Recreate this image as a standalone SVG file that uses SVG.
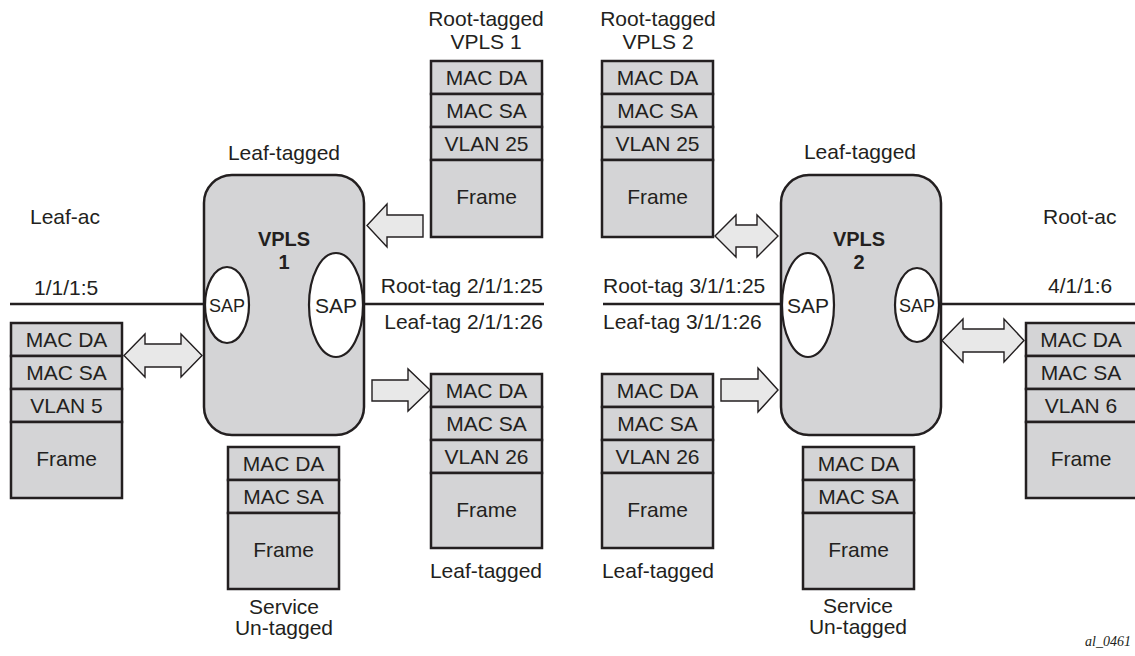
<svg xmlns="http://www.w3.org/2000/svg" width="1135" height="656" viewBox="0 0 1135 656">
<style>
text{font-family:"Liberation Sans",Arial,sans-serif;font-size:21px;fill:#231f20}
.c{text-anchor:middle}
.b{font-weight:bold;font-size:20px}
.cell{fill:#d4d4d6;stroke:#231f20;stroke-width:2.5}
.vpls{fill:#d4d4d6;stroke:#231f20;stroke-width:2.5}
.sap{fill:#fff;stroke:#231f20;stroke-width:2.2}
.ln{stroke:#231f20;stroke-width:2.5;fill:none}
.arr{fill:#e8e8e8;stroke:#231f20;stroke-width:1.4;stroke-linejoin:miter}
.s18{font-size:18px}
.id{font-family:"Liberation Serif","Times New Roman",serif;font-style:italic;font-size:14px}
</style>
<rect width="1135" height="656" fill="#fff"/>

<g id="connectors">
<line class="ln" x1="10" y1="304" x2="205" y2="304"/>
<line class="ln" x1="364" y1="304" x2="544" y2="304"/>
<line class="ln" x1="603" y1="304" x2="781" y2="304"/>
<line class="ln" x1="940" y1="304" x2="1135" y2="304"/>
<path class="arr" d="M367,225.5 L387,204 L387,215 L423,215 L423,237 L387,237 L387,247 Z"/>
<path class="arr" d="M430,390 L408,369 L408,380 L372,380 L372,401 L408,401 L408,411 Z"/>
<path class="arr" d="M778,390 L758,368 L758,379 L721,379 L721,401 L758,401 L758,412 Z"/>
<path class="arr" d="M124,355.5 L145,334 L145,344 L181,344 L181,334 L202,355.5 L181,377 L181,367 L145,367 L145,377 Z"/>
<path class="arr" d="M715,236 L736,215 L736,225 L757,225 L757,215 L778,236 L757,257 L757,247 L736,247 L736,257 Z"/>
<path class="arr" d="M942,340.5 L963,319 L963,329 L1004,329 L1004,319 L1024,340.5 L1004,362 L1004,352 L963,352 L963,362 Z"/>
</g>

<g id="vpls1">
<rect class="vpls" x="204" y="175" width="160" height="260" rx="28"/>
<text class="c b" x="284" y="246">VPLS</text>
<text class="c b" x="284" y="269">1</text>
<ellipse class="sap" cx="227" cy="305" rx="22" ry="38"/>
<text class="c s18" x="227" y="312">SAP</text>
<ellipse class="sap" cx="336" cy="305" rx="27" ry="52"/>
<text class="c" x="336" y="313">SAP</text>
</g>

<g id="vpls2">
<rect class="vpls" x="781" y="175" width="160" height="260" rx="28"/>
<text class="c b" x="859" y="246">VPLS</text>
<text class="c b" x="859" y="269">2</text>
<ellipse class="sap" cx="808" cy="305" rx="26" ry="52"/>
<text class="c" x="808" y="313">SAP</text>
<ellipse class="sap" cx="917" cy="305" rx="22" ry="37"/>
<text class="c s18" x="917" y="312">SAP</text>
</g>

<g id="stack-left">
<rect class="cell" x="11" y="323" width="111" height="33"/>
<rect class="cell" x="11" y="356" width="111" height="33"/>
<rect class="cell" x="11" y="389" width="111" height="33"/>
<rect class="cell" x="11" y="422" width="111" height="76"/>
<text class="c" x="66.5" y="347">MAC DA</text>
<text class="c" x="66.5" y="380">MAC SA</text>
<text class="c" x="66.5" y="413">VLAN 5</text>
<text class="c" x="66.5" y="466">Frame</text>
</g>

<g id="stack-service1">
<rect class="cell" x="228" y="447" width="111" height="33"/>
<rect class="cell" x="228" y="480" width="111" height="33"/>
<rect class="cell" x="228" y="513" width="111" height="76"/>
<text class="c" x="283.5" y="471">MAC DA</text>
<text class="c" x="283.5" y="504">MAC SA</text>
<text class="c" x="283.5" y="557">Frame</text>
</g>

<g id="stack-root1">
<rect class="cell" x="431" y="61" width="111" height="33"/>
<rect class="cell" x="431" y="94" width="111" height="33"/>
<rect class="cell" x="431" y="127" width="111" height="33"/>
<rect class="cell" x="431" y="160" width="111" height="77"/>
<text class="c" x="486.5" y="85">MAC DA</text>
<text class="c" x="486.5" y="118">MAC SA</text>
<text class="c" x="486.5" y="151">VLAN 25</text>
<text class="c" x="486.5" y="204">Frame</text>
</g>

<g id="stack-root2">
<rect class="cell" x="602" y="61" width="111" height="33"/>
<rect class="cell" x="602" y="94" width="111" height="33"/>
<rect class="cell" x="602" y="127" width="111" height="33"/>
<rect class="cell" x="602" y="160" width="111" height="77"/>
<text class="c" x="657.5" y="85">MAC DA</text>
<text class="c" x="657.5" y="118">MAC SA</text>
<text class="c" x="657.5" y="151">VLAN 25</text>
<text class="c" x="657.5" y="204">Frame</text>
</g>

<g id="stack-leaf1">
<rect class="cell" x="431" y="374" width="111" height="33"/>
<rect class="cell" x="431" y="407" width="111" height="33"/>
<rect class="cell" x="431" y="440" width="111" height="33"/>
<rect class="cell" x="431" y="473" width="111" height="75"/>
<text class="c" x="486.5" y="398">MAC DA</text>
<text class="c" x="486.5" y="431">MAC SA</text>
<text class="c" x="486.5" y="464">VLAN 26</text>
<text class="c" x="486.5" y="517">Frame</text>
</g>

<g id="stack-leaf2">
<rect class="cell" x="602" y="374" width="111" height="33"/>
<rect class="cell" x="602" y="407" width="111" height="33"/>
<rect class="cell" x="602" y="440" width="111" height="33"/>
<rect class="cell" x="602" y="473" width="111" height="75"/>
<text class="c" x="657.5" y="398">MAC DA</text>
<text class="c" x="657.5" y="431">MAC SA</text>
<text class="c" x="657.5" y="464">VLAN 26</text>
<text class="c" x="657.5" y="517">Frame</text>
</g>

<g id="stack-service2">
<rect class="cell" x="803" y="447" width="111" height="33"/>
<rect class="cell" x="803" y="480" width="111" height="33"/>
<rect class="cell" x="803" y="513" width="111" height="76"/>
<text class="c" x="858.5" y="471">MAC DA</text>
<text class="c" x="858.5" y="504">MAC SA</text>
<text class="c" x="858.5" y="557">Frame</text>
</g>

<g id="stack-right">
<rect class="cell" x="1026" y="323" width="111" height="33"/>
<rect class="cell" x="1026" y="356" width="111" height="33"/>
<rect class="cell" x="1026" y="389" width="111" height="33"/>
<rect class="cell" x="1026" y="422" width="111" height="76"/>
<text class="c" x="1081" y="347">MAC DA</text>
<text class="c" x="1081" y="380">MAC SA</text>
<text class="c" x="1081" y="413">VLAN 6</text>
<text class="c" x="1081" y="466">Frame</text>
</g>

<g id="labels">
<text class="c" x="486" y="26">Root-tagged</text>
<text class="c" x="486" y="49">VPLS 1</text>
<text class="c" x="658" y="26">Root-tagged</text>
<text class="c" x="658" y="49">VPLS 2</text>
<text class="c" x="284" y="160">Leaf-tagged</text>
<text class="c" x="860" y="159">Leaf-tagged</text>
<text x="30" y="224">Leaf-ac</text>
<text x="1043" y="224">Root-ac</text>
<text x="34" y="295">1/1/1:5</text>
<text x="1048" y="293">4/1/1:6</text>
<text x="543" y="293" text-anchor="end">Root-tag 2/1/1:25</text>
<text x="543" y="329" text-anchor="end">Leaf-tag 2/1/1:26</text>
<text x="603" y="293">Root-tag 3/1/1:25</text>
<text x="603" y="329">Leaf-tag 3/1/1:26</text>
<text class="c" x="486" y="578">Leaf-tagged</text>
<text class="c" x="658" y="578">Leaf-tagged</text>
<text class="c" x="284" y="614">Service</text>
<text class="c" x="284" y="635">Un-tagged</text>
<text class="c" x="858" y="613">Service</text>
<text class="c" x="858" y="634">Un-tagged</text>
<text class="id" x="1085" y="646">al_0461</text>
</g>
</svg>
